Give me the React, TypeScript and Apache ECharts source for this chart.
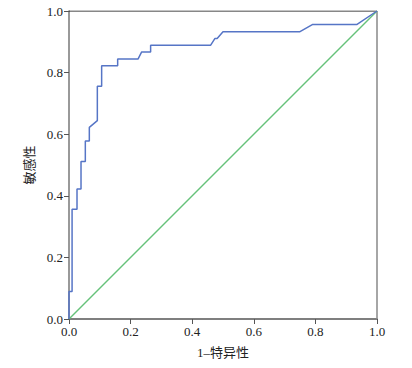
import React, { useEffect, useRef } from "react";
import * as echarts from "echarts";

const rocFpr = [0, 0, 0.01, 0.01, 0.026, 0.026, 0.039, 0.039, 0.053, 0.053, 0.066, 0.066, 0.092, 0.092, 0.106, 0.106, 0.158, 0.158, 0.224, 0.236, 0.265, 0.265, 0.46, 0.474, 0.481, 0.5, 0.75, 0.79, 0.934, 1];
const rocTpr = [0, 0.089, 0.089, 0.356, 0.356, 0.422, 0.422, 0.511, 0.511, 0.578, 0.578, 0.622, 0.644, 0.756, 0.756, 0.822, 0.822, 0.844, 0.844, 0.867, 0.867, 0.889, 0.889, 0.911, 0.911, 0.933, 0.933, 0.956, 0.956, 1];
const refX = [0, 1];
const refY = [0, 1];
const xName = "1–特异性";
const yName = "敏感性";

const FONT = "'Liberation Serif', 'Noto Sans CJK SC', serif";

export default function App() {
  const ref = useRef<HTMLDivElement>(null);
  useEffect(() => {
    if (!ref.current) return;
    const chart = echarts.init(ref.current, null, { renderer: "svg" });
    chart.setOption({
      animation: false,
      backgroundColor: "#fff",
      textStyle: { fontFamily: FONT },
      grid: { left: 69, right: 35, top: 11, bottom: 49, show: false },
      xAxis: {
        type: "value",
        min: 0,
        max: 1,
        interval: 0.2,
        name: xName,
        nameLocation: "middle",
        nameGap: 27,
        nameTextStyle: { fontFamily: FONT, fontSize: 13, color: "#222" },
        axisLine: { show: true, onZero: false, lineStyle: { color: "#555", width: 1.5 } },
        axisTick: { show: true, length: 5, lineStyle: { color: "#555" } },
        axisLabel: { fontFamily: FONT, fontSize: 13, color: "#222", margin: 6, formatter: (v: number) => v.toFixed(1) },
        splitLine: { show: false },
      },
      yAxis: {
        type: "value",
        min: 0,
        max: 1,
        interval: 0.2,
        name: yName,
        nameLocation: "middle",
        nameGap: 31,
        nameRotate: 90,
        nameTextStyle: { fontFamily: FONT, fontSize: 13, color: "#222" },
        axisLine: { show: true, onZero: false, lineStyle: { color: "#777", width: 1.5 } },
        axisTick: { show: true, length: 5, lineStyle: { color: "#555" } },
        axisLabel: { fontFamily: FONT, fontSize: 13, color: "#222", margin: 6, formatter: (v: number) => v.toFixed(1) },
        splitLine: { show: false },
      },
      series: [
        {
          type: "line",
          data: refX.map((x, i) => [x, refY[i]]),
          symbol: "none",
          lineStyle: { color: "#66c27a", width: 1.5 },
          z: 2,
        },
        {
          type: "line",
          data: rocFpr.map((x, i) => [x, rocTpr[i]]),
          symbol: "none",
          lineStyle: { color: "#5675c6", width: 1.5 },
          z: 3,
        },
        {
          type: "line",
          data: [[0, 1], [1, 1]],
          symbol: "none",
          lineStyle: { color: "#111", width: 1.2 },
          silent: true,
          z: 1,
        },
        {
          type: "line",
          data: [[1, 0], [1, 1]],
          symbol: "none",
          lineStyle: { color: "#888", width: 1.5 },
          silent: true,
          z: 1,
        },
      ],
    });
    return () => chart.dispose();
  }, []);
  return (
    <div
      ref={ref}
      style={{ position: "absolute", left: 0, top: 0, width: 412, height: 368 }}
    />
  );
}
